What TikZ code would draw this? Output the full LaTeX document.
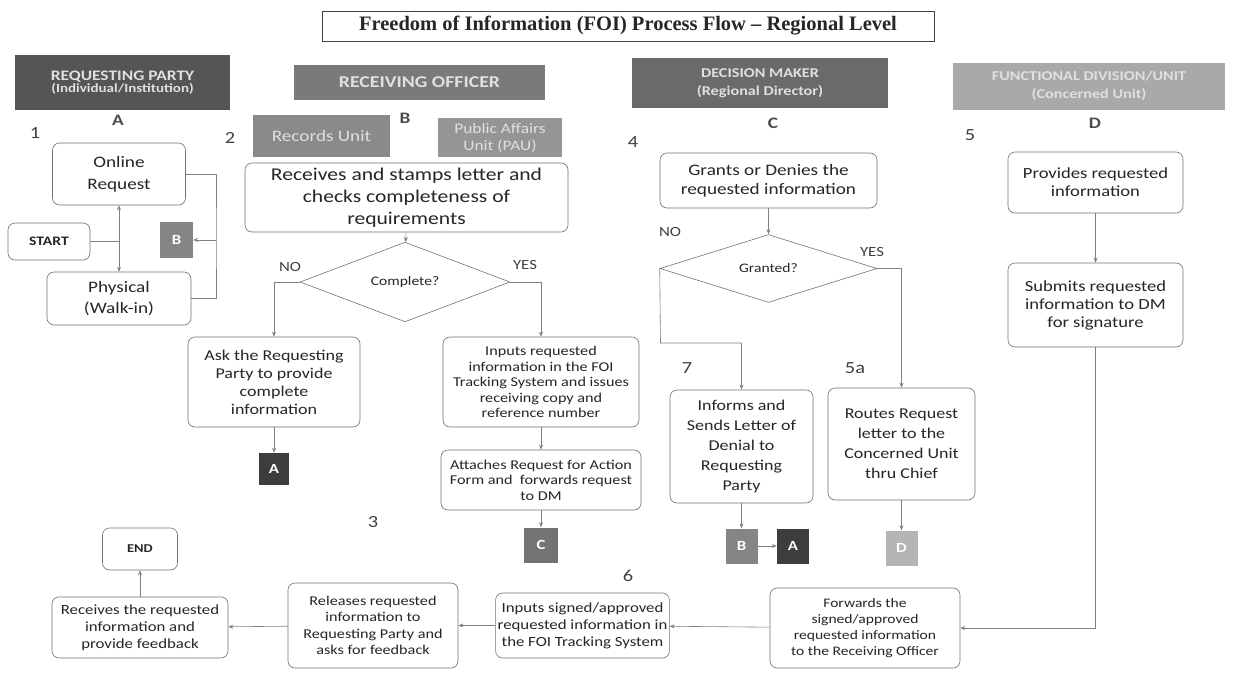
\documentclass[tikz,border=0pt]{standalone}
\usepackage{fontspec}
\setmainfont{Carlito}[FakeStretch=1.2]
\newfontfamily\titlefont{Liberation Serif}
\usepackage{tikz}
\usetikzlibrary{arrows.meta, shapes.geometric}
\newcommand{\fsz}[2]{\fontsize{#1}{#2}\selectfont}
\definecolor{barA}{HTML}{555555}
\definecolor{barB}{HTML}{7A7A7A}
\definecolor{barRec}{HTML}{8A8A8A}
\definecolor{barPau}{HTML}{959595}
\definecolor{barC}{HTML}{6A6A6A}
\definecolor{barD}{HTML}{A9A9A9}
\definecolor{sqAcol}{HTML}{3D3D3D}
\definecolor{sqBcol}{HTML}{858585}
\definecolor{sqCcol}{HTML}{737373}
\definecolor{sqDcol}{HTML}{B5B5B5}

\begin{document}
\begin{tikzpicture}[x=1pt, y=-1pt,
    box/.style={draw=black!55, line width=0.6pt, rounded corners=7pt, fill=white, align=center, inner sep=2pt, text=black!85},
    bar/.style={fill=#1, text=white!88!black, align=center, inner sep=0pt},
    sq/.style={fill=#1, text=white, font=\bfseries\fsz{14}{16}, minimum width=32pt, minimum height=35pt, inner sep=0pt},
    chk/.style={draw=black!55, line width=0.6pt, shape=diamond, inner sep=0pt, text=black!85, font=\fsz{13}{15}},
    conn/.style={draw=black!50, line width=0.6pt},
    arr/.style={conn, -{Stealth[length=5pt, width=4pt]}},
    lbl/.style={text=black!75, inner sep=0pt, font=\fsz{17}{20}},
    col/.style={text=black!70, inner sep=0pt, font=\bfseries\fsz{16}{18}},
    yn/.style={text=black!75, inner sep=0pt, font=\fsz{14}{16}}]
    \useasboundingbox[fill=white] (0,0) rectangle (1234,688);
    \node[draw=black!75, line width=0.8pt, minimum width=612pt, minimum height=30pt, inner sep=0pt, font=\titlefont\bfseries\fsz{20.5}{24}, text=black!85] (title) at (628,26) {Freedom of Information (FOI) Process Flow \textendash{} Regional Level};

    \node[bar=barA, minimum width=215pt, minimum height=55pt, font=\bfseries] (hdrA) at (122.5,82.5) {\fsz{14.5}{19}REQUESTING PARTY\\\fsz{12.5}{16}(Individual/Institution)};
    \node[bar=barB, minimum width=251pt, minimum height=35pt, font=\bfseries\fsz{16.5}{20}] (hdrB) at (419.5,82.5) {RECEIVING OFFICER};
    \node[bar=barRec, minimum width=137pt, minimum height=42pt, font=\fsz{16}{19}] (records) at (321.5,136) {Records Unit};
    \node[bar=barPau, minimum width=124pt, minimum height=39pt, font=\fsz{14.5}{17}] (pau) at (500,137.5) {Public Affairs\\Unit (PAU)};
    \node[bar=barC, minimum width=256pt, minimum height=50pt, font=\bfseries\fsz{13.5}{18}] (hdrC) at (760,83) {DECISION MAKER\\(Regional Director)};
    \node[bar=barD, minimum width=272pt, minimum height=47pt, font=\bfseries\fsz{13.5}{18}] (hdrD) at (1089,86) {FUNCTIONAL DIVISION/UNIT\\(Concerned Unit)};

    \node[col] (colA) at (118,120) {A};
    \node[col] (colB) at (405,118) {B};
    \node[col] (colC) at (773,123) {C};
    \node[col] (colD) at (1095,123) {D};
    \node[lbl] (num1) at (35,133) {1};
    \node[lbl] (num2) at (230,138) {2};
    \node[lbl] (num3) at (373,522) {3};
    \node[lbl] (num4) at (633,142) {4};
    \node[lbl] (num5) at (970,135) {5};
    \node[lbl] (num5a) at (855,368) {5a};
    \node[lbl] (num6) at (628,576) {6};
    \node[lbl] (num7) at (687,368) {7};

    \node[box, minimum width=133pt, minimum height=62pt, font=\fsz{16}{22}] (online) at (119,174) {Online\\Request};
    \node[box, minimum width=82pt, minimum height=37pt, font=\bfseries\fsz{13}{15}] (start) at (49,241.5) {START};
    \node[box, minimum width=144pt, minimum height=53pt, font=\fsz{16}{21}] (physical) at (119,298.5) {Physical\\(Walk-in)};
    \node[sq=sqBcol, minimum width=33pt, minimum height=36pt] (sqB) at (176.5,240) {B};
    \coordinate (jA) at (119,241.5);
    \coordinate (jB) at (216,240);
    \draw[conn] (start) -- (jA);
    \draw[arr] (jA) -- (online);
    \draw[arr] (jA) -- (physical);
    \draw[conn] (online.east) -| (jB) |- (physical.east);
    \draw[arr] (jB) -- (sqB);

    \node[box, minimum width=323pt, minimum height=69pt, font=\fsz{18}{22}] (receives) at (406.5,197.5) {Receives and stamps letter and\\checks completeness of\\requirements};
    \node[chk, minimum width=210pt, minimum height=70pt] (complete) at (405,282) {Complete?};
    \node[yn] (noB) at (290,267) {NO};
    \node[yn] (yesB) at (525,265) {YES};
    \node[box, minimum width=172pt, minimum height=90pt, font=\fsz{15}{18}] (ask) at (274,382) {Ask the Requesting\\Party to provide\\complete\\information};
    \node[sq=sqAcol, minimum width=30pt, minimum height=32pt] (sqA) at (274,469) {A};
    \node[box, minimum width=196pt, minimum height=90pt, font=\fsz{13.5}{15.5}] (inputs) at (541,382) {Inputs requested\\information in the FOI\\Tracking System and issues\\receiving copy and\\reference number};
    \node[box, minimum width=200pt, minimum height=60pt, font=\fsz{13.5}{15.5}] (attaches) at (541,480) {Attaches Request for Action\\Form and~ forwards request\\to DM};
    \node[sq=sqCcol, minimum width=34pt, minimum height=35pt] (sqC) at (541,545) {C};
    \draw[arr] (receives) -- (complete);
    \draw[arr] (complete.west) -| (ask.north);
    \draw[arr] (ask) -- (sqA);
    \draw[arr] (complete.east) -| (inputs.north);
    \draw[arr] (inputs) -- (attaches);
    \draw[arr] (attaches) -- (sqC);

    \node[box, minimum width=217pt, minimum height=55pt, font=\fsz{16}{19}] (grants) at (768.5,180.5) {Grants or Denies the\\requested information};
    \node[chk, minimum width=217pt, minimum height=57pt] (granted) at (768.5,268.5) {Granted?};
    \node[yn] (noC) at (670,232) {NO};
    \node[yn] (yesC) at (872,252) {YES};
    \node[box, minimum width=143pt, minimum height=113pt, font=\fsz{15}{20}] (informs) at (741.5,446.5) {Informs and\\Sends Letter of\\Denial to\\Requesting\\Party};
    \node[box, minimum width=147pt, minimum height=112pt, font=\fsz{15}{20}] (routes) at (901.5,444) {Routes Request\\letter to the\\Concerned Unit\\thru Chief};
    \node[sq=sqBcol] (sqB2) at (741.5,546) {B};
    \node[sq=sqAcol] (sqA2) at (793,546) {A};
    \node[sq=sqDcol] (sqD) at (901.5,548) {D};
    \coordinate (jC) at (660.5,343);
    \draw[arr] (grants) -- (granted);
    \draw[arr] (granted.west) -- (jC) -| (informs.north);
    \draw[arr] (granted.east) -| (routes.north);
    \draw[arr] (informs) -- (sqB2);
    \draw[arr] (sqB2) -- (sqA2);
    \draw[arr] (routes) -- (sqD);

    \node[box, minimum width=175pt, minimum height=61pt, font=\fsz{15.5}{18}] (provides) at (1095.5,182.5) {Provides requested\\information};
    \node[box, minimum width=175pt, minimum height=84pt, font=\fsz{15.5}{18}] (submits) at (1095.5,305) {Submits requested\\information to DM\\for signature};
    \node[box, minimum width=190pt, minimum height=80pt, font=\fsz{13}{16}] (forwards) at (865,628) {Forwards the\\signed/approved\\requested information\\to the Receiving Officer};
    \node[box, minimum width=171pt, minimum height=65pt, font=\fsz{14}{17}] (signed) at (582.5,625.5) {Inputs signed/approved\\requested information in\\the FOI Tracking System};
    \node[box, minimum width=170pt, minimum height=85pt, font=\fsz{13.5}{16.5}] (releases) at (373,625.5) {Releases requested\\information to\\Requesting Party and\\asks for feedback};
    \node[box, minimum width=176pt, minimum height=61pt, font=\fsz{14}{17}] (feedback) at (140,627.5) {Receives the requested\\information and\\provide feedback};
    \node[box, minimum width=75pt, minimum height=42pt, font=\bfseries\fsz{12}{14}] (finish) at (140,549) {END};
    \draw[arr] (provides) -- (submits);
    \draw[arr] (submits.south) |- (forwards.east);
    \draw[arr] (forwards) -- (signed);
    \draw[arr] (signed) -- (releases);
    \draw[arr] (releases) -- (feedback);
    \draw[arr] (feedback) -- (finish);
\end{tikzpicture}
\end{document}
